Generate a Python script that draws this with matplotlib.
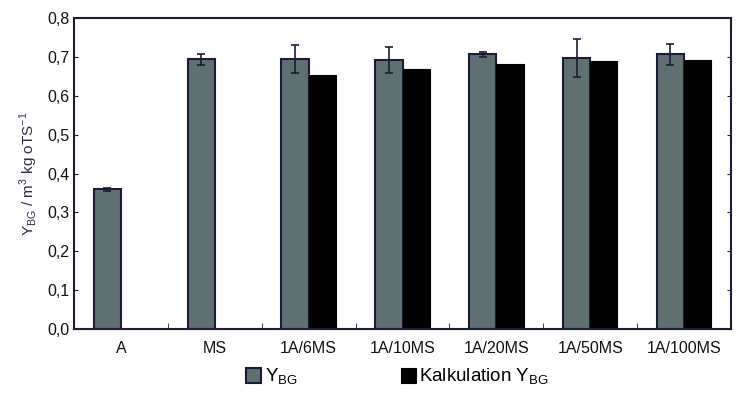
import numpy as np
import matplotlib.pyplot as plt
from matplotlib.ticker import FixedLocator, FuncFormatter

plt.rcParams['font.family'] = ['Liberation Sans', 'DejaVu Sans']

categories = ["A", "MS", "1A/6MS", "1A/10MS", "1A/20MS", "1A/50MS", "1A/100MS"]
y_bg = [0.359, 0.694, 0.695, 0.693, 0.707, 0.697, 0.707]
y_bg_err = [0.005, 0.014, 0.035, 0.033, 0.007, 0.048, 0.027]
calc_y_bg = [np.nan, np.nan, 0.653, 0.669, 0.681, 0.689, 0.692]

GREY = "#5f7070"
EDGE = "#1c1c3a"

fig = plt.figure(figsize=(7.5, 3.94), dpi=100)
ax = fig.add_axes([0.0987, 0.165, 0.876, 0.789])

x = np.arange(len(categories))
w = 0.29
ax.bar(x - w / 2, y_bg, w, color=GREY, edgecolor=EDGE, linewidth=1.5,
       yerr=y_bg_err, error_kw=dict(ecolor=EDGE, elinewidth=1.2, capsize=3, capthick=1.2),
       label="Y$_{\\mathregular{BG}}$", zorder=2)
ax.bar(x + w / 2, calc_y_bg, w, color="black", edgecolor="black", linewidth=0.8,
       label="Kalkulation Y$_{\\mathregular{BG}}$", zorder=2)

ax.set_xlim(-0.5, len(categories) - 0.5)
ax.set_ylim(0, 0.8)
ax.set_yticks(np.arange(0, 0.81, 0.1))
ax.yaxis.set_major_formatter(FuncFormatter(lambda v, p: f"{v:.1f}".replace(".", ",")))
ax.set_xticks(x)
ax.set_xticklabels(categories)
ax.xaxis.set_minor_locator(FixedLocator(x[:-1] + 0.5))
ax.tick_params(axis="x", which="major", length=0, pad=9, labelsize=11.5, labelcolor="#111")
ax.tick_params(axis="x", which="minor", direction="in", length=4, color=EDGE)
ax.tick_params(axis="y", direction="in", length=3, right=True, labelright=False,
               labelsize=11.5, labelcolor="#111", color=EDGE)
for s in ax.spines.values():
    s.set_color(EDGE)
    s.set_linewidth(1.5)

ax.set_ylabel("Y$_{\\mathregular{BG}}$ / m$^{\\mathregular{3}}$ kg oTS$^{\\mathregular{-1}}$",
              fontsize=11, color="#2a2a50", labelpad=5)

fig.legend(loc="center", bbox_to_anchor=(0.53, 0.043), ncol=2, frameon=False,
           fontsize=13.5, handlelength=0.8, handleheight=0.8, handletextpad=0.2,
           columnspacing=5.5)

fig.savefig("out.png", dpi=100)
